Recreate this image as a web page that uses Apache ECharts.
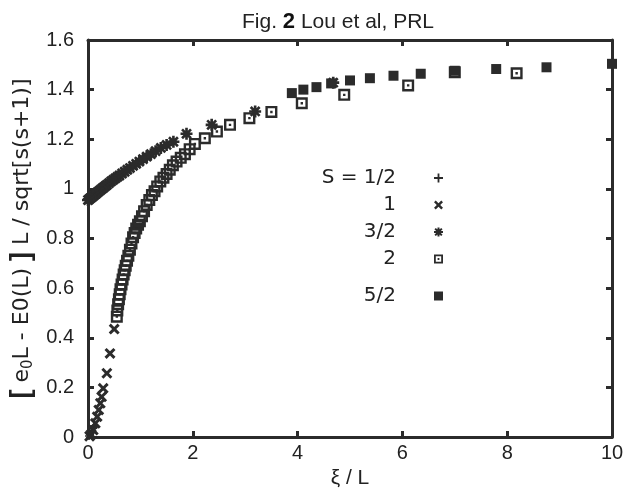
<!DOCTYPE html>
<html>
<head>
<meta charset="utf-8">
<script src="https://cdn.jsdelivr.net/npm/echarts@6/dist/echarts.min.js"></script>
<style>
  html, body { margin: 0; padding: 0; background: #fff; }
  #box { width: 625px; height: 497px; }
</style>
</head>
<body>
<div id="box"></div>
<script>
// values: [xi / L, scaled gap]
var spinHalf = [[0.02, 0.004], [0.04, 0.01], [0.06, 0.018], [0.08, 0.026], [0.1, 0.035], [0.12, 0.045]];
var spinOne = [[0.03, 0.003], [0.06, 0.01], [0.1, 0.028], [0.14, 0.055], [0.175, 0.082], [0.205, 0.109],
  [0.235, 0.136], [0.26, 0.162], [0.29, 0.196], [0.36, 0.257], [0.42, 0.337], [0.5, 0.435]];
var spinThreeHalf = [[0, 0.955], [0.02, 0.958], [0.04, 0.962], [0.06, 0.965], [0.08, 0.968], [0.1, 0.972],
  [0.12, 0.975], [0.15, 0.98], [0.18, 0.986], [0.21, 0.991], [0.24, 0.996], [0.27, 1.001], [0.3, 1.006],
  [0.33, 1.011], [0.36, 1.016], [0.4, 1.023], [0.44, 1.03], [0.48, 1.036], [0.52, 1.042], [0.56, 1.048],
  [0.6, 1.054], [0.65, 1.062], [0.7, 1.069], [0.75, 1.077], [0.8, 1.084], [0.86, 1.093], [0.92, 1.101],
  [0.98, 1.11], [1.05, 1.12], [1.12, 1.13], [1.2, 1.14], [1.29, 1.152], [1.39, 1.165], [1.5, 1.177],
  [1.63, 1.19], [1.88, 1.222], [2.36, 1.258], [3.19, 1.312], [4.68, 1.428]];
var spinTwo = [[0.55, 0.485], [0.56, 0.51], [0.575, 0.535], [0.59, 0.555], [0.605, 0.575], [0.62, 0.595],
  [0.64, 0.615], [0.66, 0.635], [0.68, 0.655], [0.7, 0.672], [0.72, 0.69], [0.745, 0.71], [0.77, 0.73],
  [0.8, 0.755], [0.83, 0.78], [0.86, 0.805], [0.89, 0.822], [0.92, 0.84], [0.955, 0.855], [0.99, 0.87],
  [1.03, 0.89], [1.07, 0.91], [1.12, 0.935], [1.17, 0.955], [1.22, 0.975], [1.27, 0.99], [1.32, 1.01],
  [1.38, 1.03], [1.44, 1.045], [1.5, 1.06], [1.56, 1.077], [1.62, 1.095], [1.69, 1.11], [1.77, 1.125],
  [1.85, 1.14], [1.94, 1.16], [2.04, 1.181], [2.23, 1.204], [2.46, 1.231], [2.71, 1.258], [3.08, 1.285],
  [3.5, 1.31], [4.08, 1.345], [4.89, 1.379], [6.11, 1.417], [7.0, 1.47], [8.18, 1.466]];
var spinFiveHalf = [[3.89, 1.386], [4.11, 1.4], [4.36, 1.41], [4.64, 1.425], [5.0, 1.437], [5.38, 1.446],
  [5.83, 1.456], [6.35, 1.464], [7.0, 1.476], [7.79, 1.483], [8.75, 1.49], [10.0, 1.504]];

var seriesNames = ["S = 1/2", "1", "3/2", "2", "5/2"];

// gnuplot-like point shapes
var PLUS = "path://M4,0H6V4H10V6H6V10H4V6H0V4H4Z";
var CROSS = "path://M0,1.9L1.9,0L5,3.1L8.1,0L10,1.9L6.9,5L10,8.1L8.1,10L5,6.9L1.9,10L0,8.1L3.1,5Z";
var STAR = "path://M3.9,0H6.1V3.9H10V6.1H6.1V10H3.9V6.1H0V3.9H3.9Z M0.5,2.05L2.05,0.5L5,3.45L7.95,0.5L9.5,2.05L6.55,5L9.5,7.95L7.95,9.5L5,6.55L2.05,9.5L0.5,7.95L3.45,5Z";
var BOXDOT = "path://M0,0H10V10H0Z M2,2V8H8V2Z M4,4H6V6H4Z";

var ink = "#2b2b2b";
var font = "Liberation Sans";
var wideFont = "DejaVu Sans";

var myChart = echarts.init(document.getElementById("box"), null, { renderer: "canvas" });

function axisBase(show) {
  return {
    type: "value",
    axisLine: { show: true, onZero: false, lineStyle: { color: ink, width: 3 } },
    axisTick: { show: true, inside: true, length: 6, lineStyle: { color: ink, width: 3 } },
    splitLine: { show: false },
    axisLabel: { show: show, color: "#222", fontSize: 20, fontFamily: font }
  };
}

var xBottom = axisBase(true);
xBottom.min = 0; xBottom.max = 10; xBottom.interval = 2; xBottom.position = "bottom";
xBottom.axisLabel.margin = 6;
xBottom.name = "ξ / L";
xBottom.nameLocation = "middle";
xBottom.nameGap = 29;
xBottom.nameTextStyle = { color: "#222", fontSize: 21, fontFamily: font };
var xTop = axisBase(false);
xTop.min = 0; xTop.max = 10; xTop.interval = 2; xTop.position = "top";

var yLeft = axisBase(true);
yLeft.min = 0; yLeft.max = 1.6; yLeft.interval = 0.2; yLeft.position = "left";
yLeft.axisLabel.margin = 14;
yLeft.name = "{br|[} e{sub|0}L - E0(L) {br|]} L / sqrt[s(s+1)]";
yLeft.nameLocation = "middle";
yLeft.nameGap = 51;
yLeft.nameTextStyle = {
  color: "#222", fontSize: 22, fontFamily: wideFont, lineHeight: 27,
  rich: {
    br: { fontSize: 27, fontWeight: "bold", fontFamily: font, color: "#222" },
    sub: { fontSize: 15, fontFamily: wideFont, color: "#222", verticalAlign: "bottom", padding: [9, 0, 0, 0] }
  }
};
var yRight = axisBase(false);
yRight.min = 0; yRight.max = 1.6; yRight.interval = 0.2; yRight.position = "right";

function pointSeries(name, symbol, size, data) {
  return {
    name: name,
    type: "scatter",
    symbol: symbol,
    symbolSize: size,
    data: data,
    itemStyle: { color: ink, opacity: 1 },
    emphasis: { disabled: true }
  };
}

var legendBase = {
  orient: "vertical",
  align: "right",
  right: 177,
  itemWidth: 9,
  itemHeight: 9,
  itemGap: 7,
  selectedMode: false,
  textStyle: { color: "#222", fontSize: 20, fontFamily: wideFont, padding: [0, 33, 0, 0] }
};

var option = {
  backgroundColor: "#fff",
  animation: false,
  title: {
    text: "Fig. {b|2} Lou et al, PRL",
    left: 237,
    top: 6,
    textStyle: {
      color: "#222", fontSize: 21, fontWeight: "normal", fontFamily: font,
      rich: { b: { fontSize: 22, fontWeight: "bold", fontFamily: font, color: "#111" } }
    }
  },
  grid: { left: 88, right: 13, top: 40, bottom: 60, outerBoundsMode: "none" },
  legend: [
    Object.assign({}, legendBase, { top: 163, data: seriesNames.slice(0, 4) }),
    Object.assign({}, legendBase, { top: 281, data: seriesNames.slice(4) })
  ],
  xAxis: [xBottom, xTop],
  yAxis: [yLeft, yRight],
  series: [
    pointSeries(seriesNames[0], PLUS, 8, spinHalf),
    pointSeries(seriesNames[1], CROSS, 11, spinOne),
    pointSeries(seriesNames[3], BOXDOT, 12, spinTwo),
    pointSeries(seriesNames[4], "rect", 10, spinFiveHalf),
    pointSeries(seriesNames[2], STAR, 12, spinThreeHalf)
  ]
};

myChart.setOption(option);
</script>
</body>
</html>
